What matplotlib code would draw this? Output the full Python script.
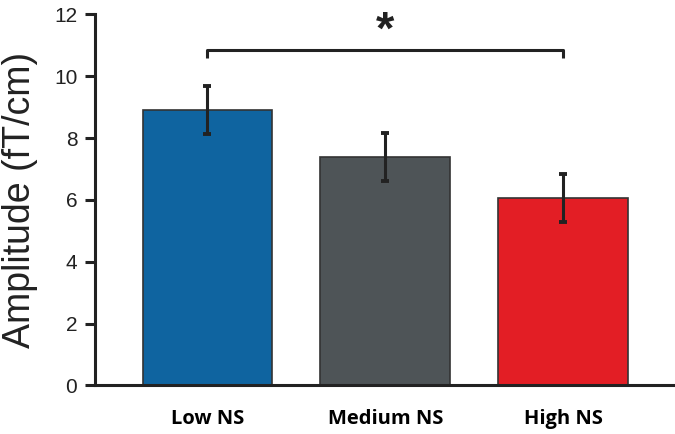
import matplotlib
matplotlib.use("Agg")
import matplotlib.pyplot as plt
import numpy as np

categories = ["Low NS", "Medium NS", "High NS"]
means = [8.92, 7.40, 6.06]
errors = [0.77, 0.78, 0.77]
colors = ["#0f64a0", "#4e5457", "#e31e25"]

fig = plt.figure(figsize=(6.75, 4.34), dpi=100)
ax = fig.add_axes([0.1407, 0.1118, 0.8593, 0.8548])

x = np.arange(len(categories))
ax.bar(x, means, width=0.73, color=colors, edgecolor="#333333", linewidth=1.2, zorder=2)
ax.errorbar(x, means, yerr=errors, fmt="none", ecolor="#222222", elinewidth=2.2,
            capsize=2.6, capthick=2.8, zorder=3)

# significance bracket between Low and High
y_br, drop = 10.85, 0.27
ax.plot([x[0], x[0], x[2], x[2]], [y_br - drop, y_br, y_br, y_br - drop],
        color="#222222", lw=2.2, solid_capstyle="butt", clip_on=False)
ax.text((x[0] + x[2]) / 2, 11.05, "*", ha="center", va="baseline",
        fontsize=34, fontweight="bold", color="#222222", family="Liberation Sans")

ax.set_xlim(-0.633, 2.63)
ax.set_ylim(0, 12)
ax.set_yticks([0, 2, 4, 6, 8, 10, 12])
ax.set_xticks(x)
ax.set_xticklabels(categories, fontsize=14.5, fontweight="bold", family="Open Sans")
for lab in ax.get_yticklabels():
    lab.set_family("Liberation Sans")
    lab.set_fontsize(15)
    lab.set_color("#222222")
ax.tick_params(axis="y", length=7.2, width=2.2, color="#222222", pad=5.5)
ax.tick_params(axis="x", length=0, pad=17)
ax.set_ylabel("Amplitude (fT/cm)", fontsize=27, family="Liberation Sans", color="#222222")
ax.yaxis.set_label_coords(-0.098, 0.5)

for s in ["top", "right"]:
    ax.spines[s].set_visible(False)
for s in ["left", "bottom"]:
    ax.spines[s].set_linewidth(2.2)
    ax.spines[s].set_color("#222222")

fig.savefig("out.png", dpi=100)
